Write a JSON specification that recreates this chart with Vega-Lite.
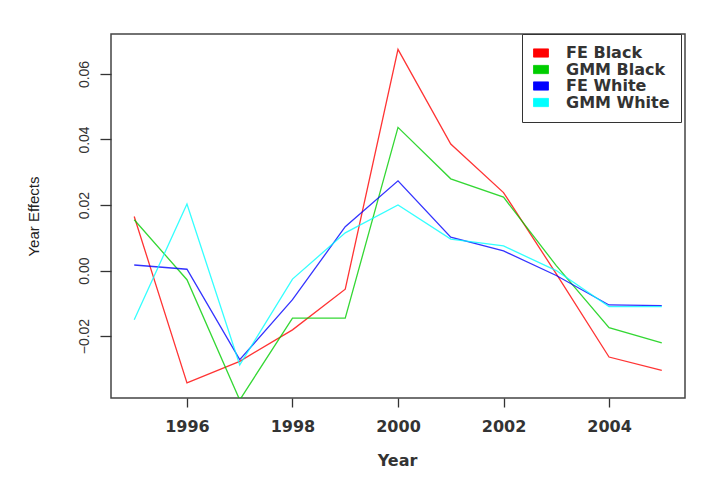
{
  "$schema": "https://vega.github.io/schema/vega-lite/v6.json",
  "width": 574,
  "height": 364,
  "autosize": {"type": "none"},
  "padding": {"left": 111, "top": 34, "right": 26, "bottom": 104},
  "background": "white",
  "data": {
    "values": [
      {"Year": 1995, "Series": "FE Black", "Effect": 0.0165},
      {"Year": 1996, "Series": "FE Black", "Effect": -0.0343},
      {"Year": 1997, "Series": "FE Black", "Effect": -0.0277},
      {"Year": 1998, "Series": "FE Black", "Effect": -0.0181},
      {"Year": 1999, "Series": "FE Black", "Effect": -0.0057},
      {"Year": 2000, "Series": "FE Black", "Effect": 0.0675},
      {"Year": 2001, "Series": "FE Black", "Effect": 0.0386},
      {"Year": 2002, "Series": "FE Black", "Effect": 0.0238},
      {"Year": 2003, "Series": "FE Black", "Effect": -0.0010},
      {"Year": 2004, "Series": "FE Black", "Effect": -0.0264},
      {"Year": 2005, "Series": "FE Black", "Effect": -0.0305},
      {"Year": 1995, "Series": "GMM Black", "Effect": 0.0155},
      {"Year": 1996, "Series": "GMM Black", "Effect": -0.0028},
      {"Year": 1997, "Series": "GMM Black", "Effect": -0.0395},
      {"Year": 1998, "Series": "GMM Black", "Effect": -0.0145},
      {"Year": 1999, "Series": "GMM Black", "Effect": -0.0145},
      {"Year": 2000, "Series": "GMM Black", "Effect": 0.0437},
      {"Year": 2001, "Series": "GMM Black", "Effect": 0.0280},
      {"Year": 2002, "Series": "GMM Black", "Effect": 0.0224},
      {"Year": 2003, "Series": "GMM Black", "Effect": 0.0015},
      {"Year": 2004, "Series": "GMM Black", "Effect": -0.0174},
      {"Year": 2005, "Series": "GMM Black", "Effect": -0.0221},
      {"Year": 1995, "Series": "FE White", "Effect": 0.0017},
      {"Year": 1996, "Series": "FE White", "Effect": 0.0004},
      {"Year": 1997, "Series": "FE White", "Effect": -0.0272},
      {"Year": 1998, "Series": "FE White", "Effect": -0.0089},
      {"Year": 1999, "Series": "FE White", "Effect": 0.0134},
      {"Year": 2000, "Series": "FE White", "Effect": 0.0274},
      {"Year": 2001, "Series": "FE White", "Effect": 0.0102},
      {"Year": 2002, "Series": "FE White", "Effect": 0.0060},
      {"Year": 2003, "Series": "FE White", "Effect": -0.0015},
      {"Year": 2004, "Series": "FE White", "Effect": -0.0105},
      {"Year": 2005, "Series": "FE White", "Effect": -0.0107},
      {"Year": 1995, "Series": "GMM White", "Effect": -0.0150},
      {"Year": 1996, "Series": "GMM White", "Effect": 0.0203},
      {"Year": 1997, "Series": "GMM White", "Effect": -0.0288},
      {"Year": 1998, "Series": "GMM White", "Effect": -0.0026},
      {"Year": 1999, "Series": "GMM White", "Effect": 0.0115},
      {"Year": 2000, "Series": "GMM White", "Effect": 0.0200},
      {"Year": 2001, "Series": "GMM White", "Effect": 0.0096},
      {"Year": 2002, "Series": "GMM White", "Effect": 0.0075},
      {"Year": 2003, "Series": "GMM White", "Effect": 0.0000},
      {"Year": 2004, "Series": "GMM White", "Effect": -0.0110},
      {"Year": 2005, "Series": "GMM White", "Effect": -0.0110}
    ]
  },
  "mark": {"type": "line", "clip": true, "strokeWidth": 1.3, "opacity": 0.8},
  "encoding": {
    "x": {
      "field": "Year",
      "type": "quantitative",
      "scale": {"domain": [1994.56, 2005.44], "nice": false, "zero": false},
      "axis": {
        "title": "Year",
        "values": [1996, 1998, 2000, 2002, 2004],
        "format": "d",
        "grid": false,
        "domain": false,
        "tickSize": 9,
        "tickColor": "#333",
        "tickWidth": 1.3,
        "labelPadding": 24,
        "labelBaseline": "alphabetic",
        "labelFont": "DejaVu Sans",
        "labelFontWeight": "bold",
        "labelFontSize": 16,
        "labelColor": "#333",
        "titleFont": "DejaVu Sans",
        "titleFontWeight": "bold",
        "titleFontSize": 16,
        "titleColor": "#333",
        "titleBaseline": "alphabetic",
        "titleX": 286,
        "titleY": 67
      }
    },
    "y": {
      "field": "Effect",
      "type": "quantitative",
      "scale": {"domain": [-0.0389, 0.0722], "nice": false, "zero": false},
      "axis": {
        "title": "Year Effects",
        "values": [-0.02, 0, 0.02, 0.04, 0.06],
        "format": ".2f",
        "grid": false,
        "domain": false,
        "tickSize": 11,
        "tickColor": "#333",
        "tickWidth": 1.3,
        "labelAngle": 270,
        "labelAlign": "center",
        "labelBaseline": "alphabetic",
        "labelPadding": 12,
        "labelFont": "Liberation Sans",
        "labelFontSize": 14,
        "labelColor": "#333",
        "titleFont": "Liberation Sans",
        "titleFontSize": 15,
        "titleFontWeight": "normal",
        "titleColor": "#222",
        "titleAngle": 270,
        "titleAlign": "center",
        "titleBaseline": "alphabetic",
        "titleX": -73,
        "titleY": 182
      }
    },
    "color": {
      "field": "Series",
      "type": "nominal",
      "sort": ["FE Black", "GMM Black", "FE White", "GMM White"],
      "scale": {
        "domain": ["FE Black", "GMM Black", "FE White", "GMM White"],
        "range": ["#FF0000", "#00CD00", "#0000FF", "#00FFFF"]
      },
      "legend": {
        "title": null,
        "orient": "none",
        "legendX": 411,
        "legendY": 0,
        "padding": 11,
        "fillColor": "white",
        "strokeColor": "#333",
        "symbolType": "M-1,-0.55H1V0.55H-1Z",
        "symbolSize": 225,
        "symbolOpacity": 1,
        "symbolStrokeWidth": 0.8,
        "symbolFillColor": {"expr": "scale('color', datum.value)"},
        "labelOffset": 17,
        "labelFont": "DejaVu Sans",
        "labelFontWeight": "bold",
        "labelFontSize": 16,
        "labelColor": "#333",
        "rowPadding": 0.5
      }
    }
  },
  "config": {
    "view": {"stroke": "#444", "strokeWidth": 1.5}
  }
}
